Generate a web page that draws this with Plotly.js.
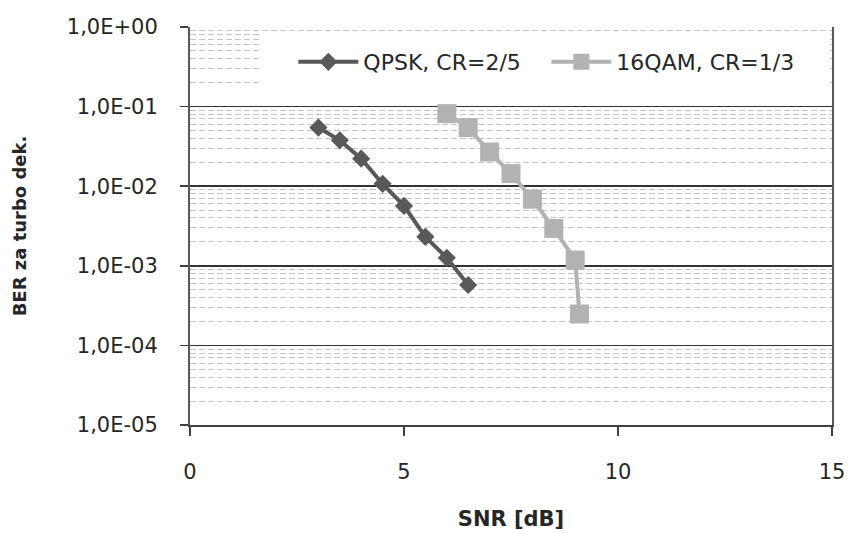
<!DOCTYPE html>
<html>
<head>
<meta charset="utf-8">
<script src="https://cdn.plot.ly/plotly-3.0.1.min.js"></script>
<style>html,body{margin:0;padding:0;background:#fff;}</style>
</head>
<body>
<div id="chart" style="width:850px;height:533px;"></div>
<script>
// ---- data ----
const seriesNames = ["QPSK, CR=2/5", "16QAM, CR=1/3"];
const snrQpsk = [3, 3.5, 4, 4.5, 5, 5.5, 6, 6.5];
const berQpsk = [0.0545, 0.0377, 0.0222, 0.0107, 0.00566, 0.00231, 0.00126, 0.000574];
const snr16qam = [6, 6.5, 7, 7.5, 8, 8.5, 9, 9.1];
const ber16qam = [0.0815, 0.0545, 0.0269, 0.0144, 0.00687, 0.00295, 0.00118, 0.000248];
const yTickVals = [1e-5, 1e-4, 1e-3, 1e-2, 1e-1, 1];
const yTickText = ["1,0E-05", "1,0E-04", "1,0E-03", "1,0E-02", "1,0E-01", "1,0E+00"];
const xTickVals = [0, 5, 10, 15];
const xTitle = "SNR [dB]";
const yTitle = "BER za turbo dek.";

const FONT = "DejaVu Sans";
const traces = [
  {
    x: snrQpsk, y: berQpsk, name: seriesNames[0], type: "scatter", mode: "lines+markers",
    line: {color: "#595959", width: 4},
    marker: {symbol: "diamond", size: 14, color: "#595959"}
  },
  {
    x: snr16qam, y: ber16qam, name: seriesNames[1], type: "scatter", mode: "lines+markers",
    line: {color: "#b2b2b2", width: 4},
    marker: {symbol: "square", size: 19, color: "#b2b2b2"}
  }
];

const layout = {
  width: 850, height: 533,
  margin: {l: 190, r: 18, t: 27, b: 108, pad: 0},
  paper_bgcolor: "#ffffff", plot_bgcolor: "#ffffff",
  font: {family: FONT, size: 21, color: "#262626"},
  showlegend: true,
  legend: {
    orientation: "h", x: 0.161, xanchor: "left", y: 0.912, yanchor: "middle",
    bgcolor: "rgba(0,0,0,0)", font: {family: FONT, size: 22, color: "#262626"},
    itemwidth: 60, itemclick: false, entrywidth: 178, entrywidthmode: "pixels"
  },
  shapes: [
    {type: "rect", xref: "paper", yref: "paper", x0: 0.112, x1: 0.997, y0: 0.82, y1: 0.988,
     fillcolor: "#ffffff", line: {width: 0}, layer: "above"}
  ],
  xaxis: {
    range: [0, 15], tickvals: xTickVals, ticks: "outside", ticklen: 9, tickwidth: 1.5,
    tickcolor: "#404040", showline: true, linecolor: "#404040", linewidth: 1.5,
    showgrid: false, zeroline: false, ticklabelstandoff: 18,
    tickfont: {family: FONT, size: 21, color: "#262626"},
    title: {text: xTitle, standoff: 28, font: {family: FONT, size: 21, color: "#262626", weight: "bold"}}
  },
  yaxis: {
    type: "log", range: [-5, 0], tickvals: yTickVals, ticktext: yTickText,
    ticks: "outside", ticklen: 8, tickwidth: 1.5, tickcolor: "#404040",
    showline: true, mirror: true, linecolor: "#595959", linewidth: 2,
    showgrid: true, gridcolor: "#333333", gridwidth: 1.5, zeroline: false,
    ticklabelstandoff: 18,
    tickfont: {family: FONT, size: 21, color: "#262626"},
    minor: {dtick: "D1", showgrid: true, gridcolor: "#c4c4c4", gridwidth: 1, griddash: "6px,3px", ticks: ""},
    title: {text: yTitle, standoff: 36, font: {family: FONT, size: 18, color: "#262626", weight: "bold"}}
  }
};

Plotly.newPlot("chart", traces, layout, {displayModeBar: false, staticPlot: true});
</script>
</body>
</html>
